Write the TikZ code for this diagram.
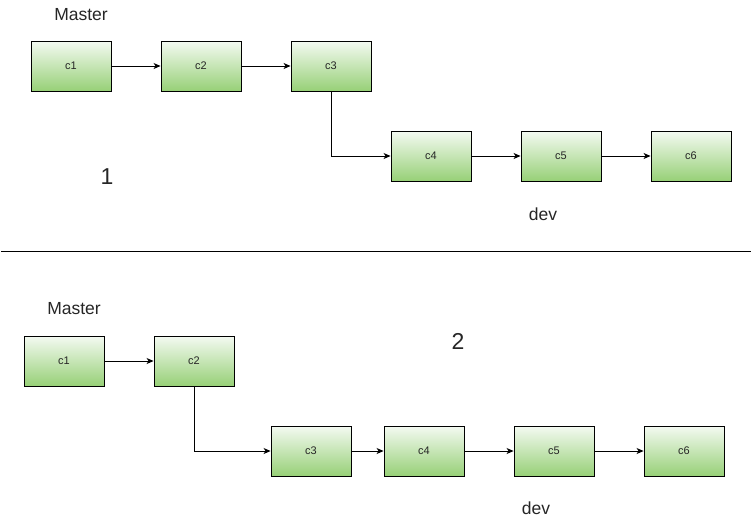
\documentclass[tikz,border=0pt]{standalone}
\usepackage{fontspec}
\setmainfont{Liberation Sans}
\usetikzlibrary{arrows.meta}
\definecolor{gtop}{RGB}{244,250,242}
\definecolor{gbot}{RGB}{151,208,119}
\begin{document}
\begin{tikzpicture}[x=1pt,y=-1pt,
  commit/.style={draw=black,line width=0.9pt,minimum width=80pt,minimum height=50pt,inner sep=0pt,
    top color=gtop,bottom color=gbot,font=\fontsize{11}{13}\selectfont,text=black!85},
  conn/.style={draw=black,line width=0.8pt,-{Stealth[length=7pt,width=6pt,inset=2pt]}},
  lbl/.style={font=\fontsize{17.5}{19}\selectfont,text=black!85},
  num/.style={font=\fontsize{23}{25}\selectfont,text=black!85}]
\useasboundingbox (0,0) rectangle (754,523);
% top diagram
\node[lbl] (m1) at (81,15) {Master};
\node[commit] (a1) at (71,66) {c1};
\node[commit] (a2) at (201,66) {c2};
\node[commit] (a3) at (331,66) {c3};
\node[commit] (a4) at (431,156) {c4};
\node[commit] (a5) at (561,156) {c5};
\node[commit] (a6) at (691,156) {c6};
\node[num] (n1) at (107,177) {1};
\node[lbl] (d1) at (543,214) {dev};
\draw[conn] (a1) -- (a2);
\draw[conn] (a2) -- (a3);
\draw[conn] (a3.south) |- (a4.west);
\draw[conn] (a4) -- (a5);
\draw[conn] (a5) -- (a6);
% separator
\coordinate (s1) at (1,251);
\coordinate (s2) at (751,251);
\draw[line width=1pt] (s1) -- (s2);
% bottom diagram
\node[lbl] (m2) at (74,309) {Master};
\node[commit] (b1) at (64,361) {c1};
\node[commit] (b2) at (194,361) {c2};
\node[commit] (b3) at (311,451) {c3};
\node[commit] (b4) at (424,451) {c4};
\node[commit] (b5) at (554,451) {c5};
\node[commit] (b6) at (684,451) {c6};
\node[num] (n2) at (458,341) {2};
\node[lbl] (d2) at (536,508) {dev};
\draw[conn] (b1) -- (b2);
\draw[conn] (b2.south) |- (b3.west);
\draw[conn] (b3) -- (b4);
\draw[conn] (b4) -- (b5);
\draw[conn] (b5) -- (b6);
\end{tikzpicture}
\end{document}
